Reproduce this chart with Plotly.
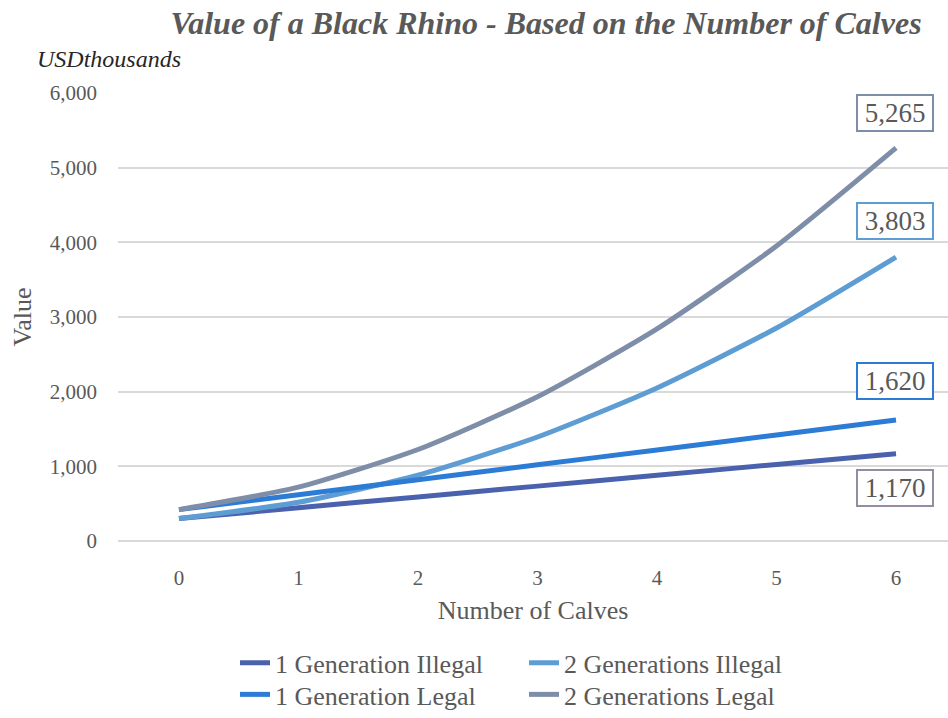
import plotly.graph_objects as go

calves = [0, 1, 2, 3, 4, 5, 6]
gen1_illegal = [300, 445, 590, 735, 880, 1025, 1170]
gen2_illegal = [300, 518, 882, 1393, 2050, 2853, 3803]
gen1_legal = [420, 620, 820, 1020, 1220, 1420, 1620]
gen2_legal = [420, 721, 1225, 1931, 2840, 3951, 5265]
y_ticks = [0, 1000, 2000, 3000, 4000, 5000, 6000]

series = [
    ("1 Generation Illegal", gen1_illegal, "#4a62ad", "legend", "#958ca2", -34),
    ("2 Generations Illegal", gen2_illegal, "#5e9cd4", "legend", "#5e9cd4", 36),
    ("1 Generation Legal", gen1_legal, "#2c7cd6", "legend2", "#2c7cd6", 39),
    ("2 Generations Legal", gen2_legal, "#7e8ea8", "legend2", "#7e8ea8", 35),
]

FONT = "Liberation Serif"
GRAY = "#595959"

W, H = 948, 718
ml, mr, mt, mb = 118, 0, 93, 170
pw, ph = W - ml - mr, H - mt - mb

fig = go.Figure()
for name, vals, color, leg, _, _ in series:
    fig.add_trace(go.Scatter(
        x=calves, y=vals, name=name, mode="lines",
        line=dict(color=color, width=5, shape="spline", smoothing=0.6),
        legend=leg,
    ))

annotations = []
for name, vals, color, leg, bcolor, shift in series:
    annotations.append(dict(
        x=calves[-1], y=vals[-1], xref="x", yref="y",
        text=f"{vals[-1]:,}", showarrow=False, yshift=shift, xshift=-1,
        font=dict(family=FONT, size=27, color=GRAY),
        bgcolor="white", bordercolor=bcolor, borderwidth=2,
        width=74, height=34, borderpad=0,
    ))

annotations.append(dict(
    x=(35 - ml) / pw, y=(H - mb - 58) / ph, xref="paper", yref="paper",
    text="<i>USDthousands</i>",
    showarrow=False, xanchor="left", yanchor="middle",
    font=dict(family=FONT, size=24, color="#262626"),
))

leg_x = (235 - ml) / pw

fig.update_layout(
    width=W, height=H,
    margin=dict(l=ml, r=mr, t=mt, b=mb),
    paper_bgcolor="white", plot_bgcolor="white",
    font=dict(family=FONT, color=GRAY),
    title=dict(
        text="<b><i>Value of a Black Rhino - Based on the Number of Calves</i></b>",
        x=546 / W, xanchor="center", y=1 - 23 / H, yanchor="middle",
        font=dict(family=FONT, size=32, color=GRAY),
    ),
    xaxis=dict(
        range=[-0.51, 6.435], tickvals=calves, ticktext=[str(c) for c in calves],
        showgrid=False, zeroline=False, showline=False,
        tickfont=dict(family=FONT, size=21, color=GRAY),
        ticklabelstandoff=22,
        title=dict(text="Number of Calves", font=dict(family=FONT, size=26, color=GRAY), standoff=11),
        fixedrange=True,
    ),
    yaxis=dict(
        range=[0, 6000], tickvals=y_ticks,
        tickformat=",d", showgrid=True, gridcolor="#d9d9d9", gridwidth=2,
        zeroline=True, zerolinecolor="#d9d9d9", zerolinewidth=2,
        tickfont=dict(family=FONT, size=21, color=GRAY),
        ticklabelstandoff=20,
        title=dict(text="Value", font=dict(family=FONT, size=26, color=GRAY), standoff=10),
        fixedrange=True,
    ),
    legend=dict(
        orientation="h", x=leg_x, xanchor="left",
        y=(H - mb - 648) / ph, yanchor="top",
        font=dict(family=FONT, size=26, color=GRAY), entrywidth=244, entrywidthmode="pixels",
        bgcolor="rgba(0,0,0,0)",
    ),
    legend2=dict(
        orientation="h", x=leg_x, xanchor="left",
        y=(H - mb - 680) / ph, yanchor="top",
        font=dict(family=FONT, size=26, color=GRAY), entrywidth=244, entrywidthmode="pixels",
        bgcolor="rgba(0,0,0,0)",
    ),
    annotations=annotations,
    showlegend=True,
)

fig.write_html("out.html")
